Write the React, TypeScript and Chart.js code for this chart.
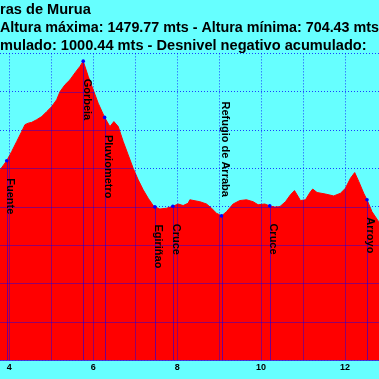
import React, { useEffect, useRef } from 'react';
import { Chart, registerables } from 'chart.js';

Chart.register(...registerables);

const titleLines = [
  'ras de Murua',
  'Altura máxima: 1479.77 mts - Altura mínima: 704.43 mts',
  'mulado: 1000.44 mts - Desnivel negativo acumulado: ',
];

const kmMin = 3.779;
const kmMax = 12.81;
const altMin = 700;
const altMax = 1500;

const distanceKm = [3.70, 3.779, 3.939, 4.058, 4.177, 4.296, 4.374, 4.453, 4.534, 4.653, 4.772, 4.891, 5.010, 5.129, 5.208, 5.327, 5.446, 5.565, 5.684, 5.762, 5.881, 6.000, 6.119, 6.272, 6.398, 6.493, 6.596, 6.715, 6.834, 6.953, 7.072, 7.191, 7.310, 7.429, 7.469, 7.588, 7.748, 7.898, 8.024, 8.143, 8.262, 8.303, 8.541, 8.700, 8.819, 8.938, 9.058, 9.177, 9.334, 9.493, 9.653, 9.810, 9.929, 10.089, 10.207, 10.327, 10.446, 10.581, 10.700, 10.796, 10.858, 10.939, 11.058, 11.177, 11.231, 11.334, 11.534, 11.731, 11.891, 12.010, 12.129, 12.231, 12.327, 12.446, 12.524, 12.643, 12.802, 12.945];

const altitudeM = [1184, 1196, 1220, 1244, 1270, 1296, 1314, 1318, 1320, 1327, 1335, 1348, 1361, 1379, 1400, 1418, 1431, 1449, 1466, 1479.77, 1440, 1405, 1370, 1333, 1309, 1322, 1309, 1270, 1235, 1200, 1170, 1144, 1122, 1103, 1099.5, 1094, 1096, 1101, 1107, 1103, 1109, 1118, 1113, 1107, 1096, 1083, 1076, 1087, 1107, 1116, 1118, 1113, 1105, 1107, 1102, 1099, 1100, 1113, 1131, 1142, 1131, 1116, 1118, 1139, 1146, 1137, 1133, 1128, 1135, 1148, 1174, 1189, 1166, 1135, 1118, 1087, 1061, 1039];

const waypointNames = ['Fuente', 'Gorbeia', 'Pluviometro', 'Egiriñao', 'Cruce', 'Refugio de Arraba', 'Cruce', 'Arroyo'];
const waypointKm = [3.939, 5.762, 6.272, 7.469, 7.898, 9.058, 10.207, 12.524];
const waypointAlt = [1220, 1479.77, 1333, 1099.5, 1101, 1076, 1102, 1118];
const waypointLabelSide = ['below', 'below', 'below', 'below', 'below', 'above', 'below', 'below'];

const FONT = '"Liberation Sans", Arial, sans-serif';

const overlayPlugin = {
  id: 'profileOverlay',
  afterDatasetDraw(chart: any, args: any) {
    if (args.index !== 0) return;
    const { ctx, chartArea: ca } = chart;
    const xs = chart.scales.x;
    const ys = chart.scales.y;
    const meta = args.meta;
    const line = meta.dataset;
    const pts = meta.data;
    ctx.save();
    ctx.beginPath();
    ctx.rect(ca.left, ca.top, ca.right - ca.left, ca.bottom - ca.top);
    ctx.clip();
    ctx.beginPath();
    line.path(ctx);
    ctx.lineTo(pts[pts.length - 1].x, ca.bottom);
    ctx.lineTo(pts[0].x, ca.bottom);
    ctx.closePath();
    ctx.clip();
    ctx.strokeStyle = 'rgba(0,0,255,0.42)';
    ctx.lineWidth = 1;
    ctx.beginPath();
    xs.ticks.forEach((t: any) => {
      const px = Math.round(xs.getPixelForValue(t.value)) + 0.5;
      ctx.moveTo(px, ca.top);
      ctx.lineTo(px, ca.bottom);
    });
    ys.ticks.forEach((t: any) => {
      const py = Math.round(ys.getPixelForValue(t.value)) + 0.5;
      ctx.moveTo(ca.left, py);
      ctx.lineTo(ca.right, py);
    });
    ctx.stroke();
    ctx.restore();

    const wp = chart.getDatasetMeta(1).data;
    ctx.save();
    ctx.strokeStyle = 'rgba(0,0,255,0.55)';
    ctx.lineWidth = 1;
    ctx.beginPath();
    wp.forEach((p: any) => {
      const px = Math.round(p.x) + 0.5;
      ctx.moveTo(px, p.y);
      ctx.lineTo(px, ca.bottom);
    });
    ctx.stroke();
    ctx.restore();
  },
  afterDatasetsDraw(chart: any) {
    const { ctx } = chart;
    const wp = chart.getDatasetMeta(1).data;
    ctx.save();
    ctx.font = `bold 11px ${FONT}`;
    ctx.fillStyle = '#000';
    ctx.textBaseline = 'alphabetic';
    ctx.textAlign = 'left';
    wp.forEach((p: any, i: number) => {
      const name = waypointNames[i];
      const w = ctx.measureText(name).width;
      const startY = waypointLabelSide[i] === 'above' ? p.y - 19 - w : p.y + 17.5;
      ctx.save();
      ctx.translate(p.x + 0.5, startY);
      ctx.rotate(Math.PI / 2);
      ctx.fillText(name, 0, 0);
      ctx.restore();
    });
    ctx.restore();
  },
};

export default function App() {
  const ref = useRef<HTMLCanvasElement>(null);
  useEffect(() => {
    const chart = new Chart(ref.current as HTMLCanvasElement, {
      type: 'line',
      data: {
        datasets: [
          {
            data: distanceKm.map((d, i) => ({ x: d, y: altitudeM[i] })),
            fill: 'start',
            backgroundColor: '#ff0000',
            borderColor: '#ff0000',
            borderWidth: 1,
            pointRadius: 0,
            pointHoverRadius: 0,
            tension: 0,
            order: 1,
          },
          {
            data: waypointKm.map((d, i) => ({ x: d, y: waypointAlt[i] })),
            showLine: false,
            pointRadius: 1.8,
            pointHoverRadius: 1.8,
            pointBackgroundColor: '#0000ff',
            pointBorderWidth: 0,
            order: -1,
          },
        ],
      } as any,
      options: {
        animation: false,
        responsive: false,
        devicePixelRatio: 1,
        layout: { padding: 0, autoPadding: false },
        plugins: {
          legend: { display: false },
          tooltip: { enabled: false },
          title: {
            display: true,
            text: titleLines,
            align: 'start',
            color: '#000',
            font: { family: FONT, size: 14.6, weight: 'bold', lineHeight: 1.23 },
            padding: { top: 1, bottom: -1.5 },
          },
        },
        scales: {
          x: {
            type: 'linear',
            min: kmMin,
            max: kmMax,
            afterFit: (s: any) => { s.height = 19; s.paddingLeft = 0; s.paddingRight = 0; },
            ticks: {
              stepSize: 1,
              includeBounds: false,
              autoSkip: false,
              maxRotation: 0,
              padding: 2,
              color: '#000',
              font: { family: FONT, size: 9, weight: 'bold' },
              callback: (v: any) => (Number(v) % 2 === 0 ? String(v) : ''),
            },
            grid: { color: 'rgba(0,0,255,0.75)', lineWidth: 1, drawTicks: false },
            border: { display: true, color: 'rgba(70,40,210,0.9)', width: 1, dash: [1, 2] },
          },
          y: {
            type: 'linear',
            min: altMin,
            max: altMax,
            afterFit: (s: any) => { s.width = 0; },
            ticks: { display: false, stepSize: 100 },
            grid: { color: 'rgba(0,0,255,0.75)', lineWidth: 1, drawTicks: false },
            border: { display: false, dash: [1, 2] },
          },
        },
      } as any,
      plugins: [overlayPlugin],
    });
    return () => chart.destroy();
  }, []);
  return (
    <div style={{ position: 'absolute', left: 0, top: 0, width: 379, height: 379, background: '#66ffff', overflow: 'hidden' }}>
      <canvas ref={ref} width={379} height={379} style={{ display: 'block' }} />
    </div>
  );
}
